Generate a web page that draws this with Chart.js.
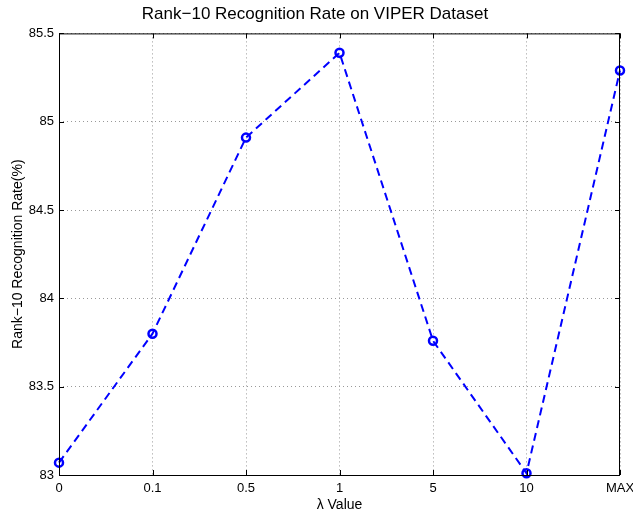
<!DOCTYPE html>
<html>
<head>
<meta charset="utf-8">
<script src="https://cdn.jsdelivr.net/npm/chart.js@4"></script>
<style>
  html, body { margin: 0; padding: 0; background: #fff; }
  #wrap { width: 633px; height: 514px; }
</style>
</head>
<body>
<div id="wrap"><canvas id="chart" width="633" height="514"></canvas></div>
<script>
// data
const lambdaLabels = ['0', '0.1', '0.5', '1', '5', '10', 'MAX'];
const rank10Rates = [83.07, 83.80, 84.91, 85.39, 83.76, 83.01, 85.29];
const yTicks = [83, 83.5, 84, 84.5, 85, 85.5];

const FONT = 'Liberation Sans, Arial, Helvetica, sans-serif';

// matlab-style box with inward tick marks
const boxPlugin = {
    id: 'box',
    afterDraw(chart) {
        const ctx = chart.ctx;
        const a = chart.chartArea;
        const xs = chart.scales.x, ys = chart.scales.y;
        ctx.save();
        ctx.strokeStyle = '#000';
        ctx.lineWidth = 1;
        ctx.strokeRect(a.left + 0.5, a.top + 0.5, a.right - a.left - 1, a.bottom - a.top);
        ctx.beginPath();
        lambdaLabels.forEach((l, i) => {
            const x = Math.round(xs.getPixelForValue(i)) + 0.5;
            ctx.moveTo(x, a.bottom); ctx.lineTo(x, a.bottom - 5);
            ctx.moveTo(x, a.top); ctx.lineTo(x, a.top + 5);
        });
        yTicks.forEach(v => {
            const y = Math.round(ys.getPixelForValue(v)) + 0.5;
            ctx.moveTo(a.left, y); ctx.lineTo(a.left + 5, y);
            ctx.moveTo(a.right, y); ctx.lineTo(a.right - 5, y);
        });
        ctx.stroke();
        ctx.restore();
    }
};

new Chart(document.getElementById('chart'), {
    type: 'line',
    data: {
        labels: lambdaLabels,
        datasets: [{
            data: rank10Rates,
            borderColor: '#0000ff',
            borderWidth: 2,
            borderDash: [8, 5],
            fill: false,
            tension: 0,
            pointStyle: 'circle',
            pointRadius: 4,
            pointBorderWidth: 2.5,
            pointBorderColor: '#0000ff',
            pointBackgroundColor: 'rgba(255,255,255,0)',
            clip: false
        }]
    },
    options: {
        responsive: false,
        animation: false,
        layout: { padding: { left: 10, right: 13, top: 0, bottom: 0 } },
        plugins: {
            legend: { display: false },
            tooltip: { enabled: false },
            title: {
                display: true,
                text: 'Rank\u221210 Recognition Rate on VIPER Dataset',
                color: '#000',
                font: { family: FONT, size: 17, weight: 'normal' },
                padding: { top: 4, bottom: 9 }
            }
        },
        scales: {
            x: {
                type: 'category',
                offset: false,
                grid: {
                    color: '#999',
                    drawTicks: false
                },
                border: { display: false, dash: [1, 3] },
                ticks: {
                    color: '#000',
                    padding: 6,
                    maxRotation: 0,
                    font: { family: FONT, size: 13 }
                },
                title: {
                    display: true,
                    text: '\u03bb Value',
                    color: '#000',
                    font: { family: FONT, size: 14 },
                    padding: { top: 0, bottom: 0 }
                },
                afterFit(scale) {
                    scale.height = 39;
                    scale.paddingRight = 0;
                    scale.paddingLeft = 0;
                }
            },
            y: {
                min: 83,
                max: 85.5,
                afterBuildTicks(scale) { scale.ticks = yTicks.map(v => ({ value: v })); },
                grid: {
                    color: '#999',
                    drawTicks: false
                },
                border: { display: false, dash: [1, 3] },
                ticks: {
                    color: '#000',
                    padding: 5,
                    font: { family: FONT, size: 13 },
                    callback: v => String(v)
                },
                title: {
                    display: true,
                    text: 'Rank\u221210 Recognition Rate(%)',
                    color: '#000',
                    font: { family: FONT, size: 14 },
                    padding: { top: 0, bottom: 4 }
                },
                afterFit(scale) { scale.width = 49; }
            }
        }
    },
    plugins: [boxPlugin]
});
</script>
</body>
</html>
